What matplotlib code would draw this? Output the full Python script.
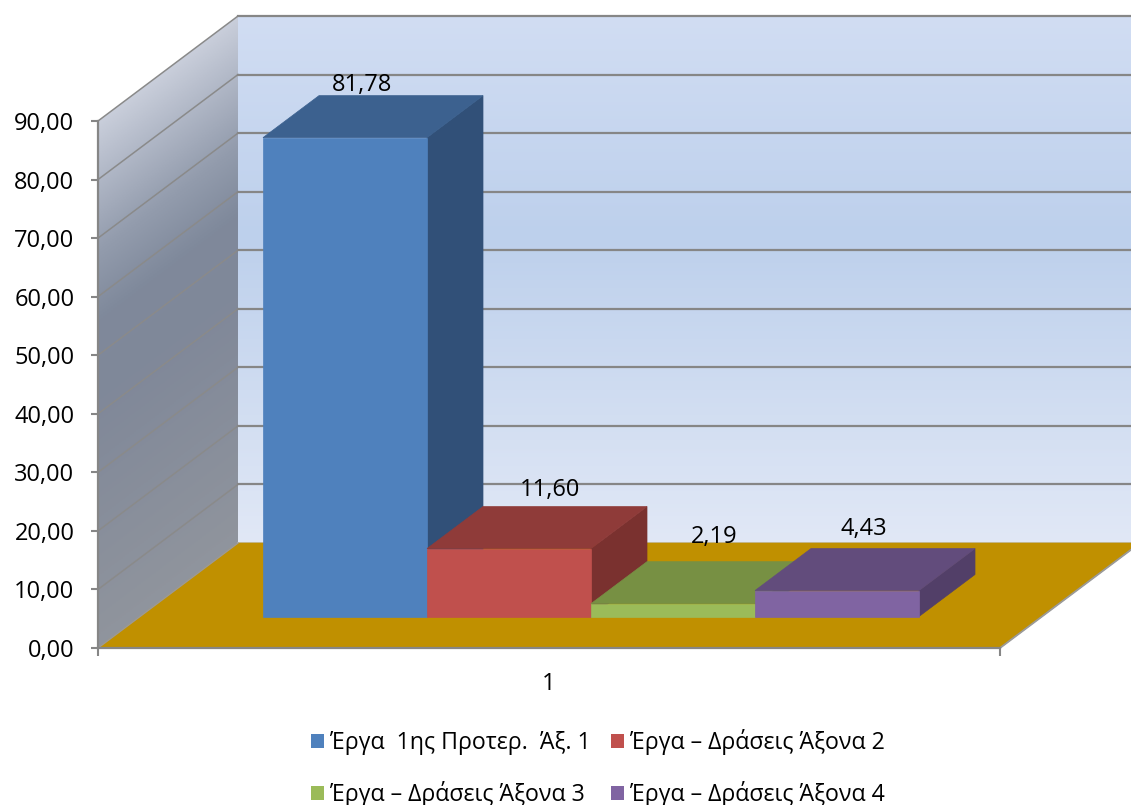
import numpy as np
import matplotlib
matplotlib.use("Agg")
import matplotlib.pyplot as plt
from matplotlib.colors import LinearSegmentedColormap
from matplotlib.patches import Polygon, Patch

plt.rcParams['font.family'] = ['Open Sans', 'Noto Sans', 'DejaVu Sans']

# ---- data ----
series_names = ["Έργα  1ης Προτερ.  Άξ. 1", "Έργα – Δράσεις Άξονα 2",
                "Έργα – Δράσεις Άξονα 3", "Έργα – Δράσεις Άξονα 4"]
values = [81.78, 11.60, 2.19, 4.43]
value_labels = ["81,78", "11,60", "2,19", "4,43"]
y_ticks = [0, 10, 20, 30, 40, 50, 60, 70, 80, 90]
y_tick_labels = ["0,00", "10,00", "20,00", "30,00", "40,00", "50,00",
                 "60,00", "70,00", "80,00", "90,00"]
category_label = "1"

# ---- style ----
front_colors = ["#4f81bd", "#c0504d", "#9bbb59", "#8064a2"]
top_colors = ["#3c618f", "#8f3b39", "#779043", "#624c7c"]
side_colors = ["#315078", "#7a312f", "#637836", "#523f68"]
label_offsets_px = [(17, 53), (41, 59), (41, 67), (27, 62)]
W, H = 1131, 805
GRID = "#868686"
FLOOR = "#c09000"
FS = 17

fig = plt.figure(figsize=(W / 100, H / 100), dpi=100)
ax = fig.add_axes([98 / W, (H - 648) / H, 902 / W, 527 / H])
x_max = 5.5
ax.set_xlim(0, x_max)
ax.set_ylim(0, 90)

DX = 140 / 164      # depth shift in x units
DY = 105 / (527 / 90)  # depth shift in value units


def proj(x, v, d):
    return (x + d * DX, v + d * DY)


def poly(pts, color, z, **kw):
    p = Polygon([proj(*q) for q in pts], closed=True, facecolor=color,
                edgecolor=kw.pop('edgecolor', color), linewidth=kw.pop('lw', 0.5),
                zorder=z, clip_on=False, **kw)
    ax.add_patch(p)
    return p


def gradient(stops):
    return LinearSegmentedColormap.from_list("g", stops)


# back wall
back = poly([(0, 0, 1), (x_max, 0, 1), (x_max, 90, 1), (0, 90, 1)], "none", 1, lw=0)
back_cmap = gradient([(0, "#d1ddf3"), (0.42, "#bdd0ec"), (1, "#e1e8f6")])
x0b, v0b = proj(0, 0, 1)
x1b, v1b = proj(x_max, 90, 1)
im = ax.imshow(np.linspace(0, 1, 256)[:, None], cmap=back_cmap, aspect='auto',
               extent=(x0b, x1b, v0b, v1b), origin='upper', zorder=1, clip_on=True)
im.set_clip_box(fig.bbox)
im.set_clip_path(back)

# left wall
left = poly([(0, 0, 0), (0, 90, 0), (0, 90, 1), (0, 0, 1)], "none", 1.2, lw=0)
wall_cmap = gradient([(0, "#ced3df"), (0.12, "#b0b7c6"), (0.24, "#939caD"),
                      (0.36, "#7f899b"), (0.5, "#808899"), (1, "#93979e")])
xs = np.linspace(0, DX, 200)
vs = np.linspace(90 + DY, 0, 400)
XX, VV = np.meshgrid(xs, vs)
shear = (VV - XX / DX * DY) / 90          # value on the unsheared wall
field = 1 - (shear * 0.9 + 0.08)
im2 = ax.imshow(field, cmap=wall_cmap, vmin=0, vmax=1, aspect='auto',
                extent=(0, DX, 0, 90 + DY), origin='upper', zorder=1.2, clip_on=True)
im2.set_clip_box(fig.bbox)
im2.set_clip_path(left)

ax.set_xlim(0, x_max)
ax.set_ylim(0, 90)

# floor
poly([(0, 0, 0), (x_max, 0, 0), (x_max, 0, 1), (0, 0, 1)], FLOOR, 2)

# grid lines on both walls
for t in y_ticks:
    if t > 0:
        a, b = proj(0, t, 0), proj(0, t, 1)
        c = proj(x_max, t, 1)
        ax.plot([a[0], b[0]], [a[1], b[1]], color="#8a8a8a", lw=1.1, zorder=1.5, clip_on=False)
        ax.plot([b[0], c[0]], [b[1], c[1]], color=GRID, lw=1.6, zorder=1.5, clip_on=False)

# floor edges
a, b = proj(x_max, 0, 0), proj(x_max, 0, 1)
ax.plot([a[0], b[0]], [a[1], b[1]], color="#9a9a9a", lw=1.3, zorder=2.5, clip_on=False)
a, b = proj(0, 0, 0), proj(0, 0, 1)
ax.plot([a[0], b[0]], [a[1], b[1]], color="#9a9a9a", lw=1.0, zorder=2.5, clip_on=False)
a, b = proj(0, 0, 1), proj(x_max, 0, 1)
ax.plot([a[0], b[0]], [a[1], b[1]], color="#c4c8d0", lw=1.3, zorder=1.6, clip_on=False)

# bars
gap = 0.75
d0, d1 = 0.3, 0.7
for i, v in enumerate(values):
    x0, x1 = gap + i, gap + i + 1
    z = 3 + i * 0.1
    poly([(x1, 0, d0), (x1, 0, d1), (x1, v, d1), (x1, v, d0)], side_colors[i], z)
    poly([(x0, v, d0), (x1, v, d0), (x1, v, d1), (x0, v, d1)], top_colors[i], z + 0.01)
    poly([(x0, 0, d0), (x1, 0, d0), (x1, v, d0), (x0, v, d0)], front_colors[i], z + 0.02)
    ax.annotate(value_labels[i], xy=proj((x0 + x1) / 2, v, d0),
                xytext=(label_offsets_px[i][0] * 0.72, label_offsets_px[i][1] * 0.72),
                textcoords='offset points', ha='center', va='center', fontsize=FS,
                color='black', zorder=6, annotation_clip=False)

# axes
for s in ('top', 'right'):
    ax.spines[s].set_visible(False)
for s in ('left', 'bottom'):
    ax.spines[s].set_color(GRID)
    ax.spines[s].set_linewidth(1.6)
    ax.spines[s].set_zorder(7)
ax.set_yticks(y_ticks, y_tick_labels)
ax.tick_params(axis='y', length=5, width=1.5, color=GRID, labelsize=FS, pad=12)
ax.set_xticks([x_max / 2], [category_label])
ax.set_xticks([0, x_max], minor=True)
ax.tick_params(axis='x', which='major', length=0, pad=17.5, labelsize=FS)
ax.tick_params(axis='x', which='minor', length=6, width=1.5, color=GRID)

# legend
handles = [Patch(facecolor=c, edgecolor='none') for c in front_colors]
order = [0, 2, 1, 3]
fig.legend([handles[i] for i in order], [series_names[i] for i in order],
           ncol=2, loc='center', bbox_to_anchor=(598 / W, 1 - 768 / H),
           frameon=False, fontsize=16.7, handlelength=0.55, handleheight=0.55,
           handletextpad=0.25, columnspacing=0.9, labelspacing=1.1)

fig.savefig("out.png", dpi=100)
